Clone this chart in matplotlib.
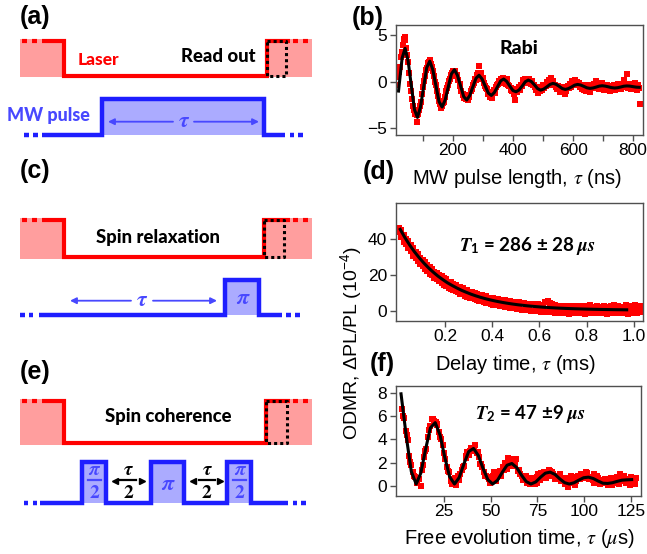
"""
Pulse sequences (a, c, e) and Rabi / T1 / T2 ODMR traces (b, d, f).
"""

import matplotlib

matplotlib.use("Agg")
import matplotlib.pyplot as plt
import numpy as np
from matplotlib.patches import Rectangle

plt.rcParams["font.family"] = ["Liberation Sans", "DejaVu Sans"]
plt.rcParams["mathtext.fontset"] = "custom"
plt.rcParams["mathtext.rm"] = "Lato:bold"
plt.rcParams["mathtext.it"] = "STIXGeneral:italic:bold"
plt.rcParams["mathtext.bf"] = "STIXGeneral:bold"
plt.rcParams["mathtext.cal"] = "STIXGeneral:italic"
plt.rcParams["mathtext.sf"] = "Liberation Sans"

RED = "#FF0000"
PINK = "#FF9E9E"
BLUE = "#1E1EFF"
LAVENDER = "#ABABFF"
TEXT_BLUE = "#4848FF"
FRAME = "#505050"

# ---------------------------------------------------------------- data
# (b) Rabi: pulse length (ns), signal
rabi_points = [
    (13, -0.3), (17, 0.5), (21, 1.0), (24, 1.6), (27, 2.6), (30, 3.2), (33, 3.9), (36, 4.6),
    (39, 4.8), (42, 4.5), (45, 3.6), (48, 2.9), (51, 2.1), (55, 0.9), (58, -0.2), (61, -1.0),
    (64, -1.8), (67, -2.6), (70, -3.0), (73, -3.4), (76, -3.1), (79, -3.6), (82, -4.3), (85, -3.5),
    (88, -3.0), (91, -2.6), (95, -2.2), (98, -1.3), (101, -0.6), (104, 0.1), (107, 0.6), (110, 1.3),
    (114, 1.5), (117, 2.0), (120, 2.1), (124, 2.3), (127, 1.9), (130, 1.6), (134, 1.1), (137, 0.6),
    (141, 0.0), (144, -0.4), (147, -1.0), (151, -1.5), (154, -2.1), (158, -2.4), (161, -2.8), (164, -2.6),
    (168, -2.3), (171, -2.2), (175, -1.6), (178, -1.0), (181, -0.7), (185, -0.4), (188, 0.1), (191, 0.3),
    (195, 0.7), (198, 0.9), (202, 1.2), (205, 1.0), (208, 1.1), (212, 0.6), (215, 0.7), (218, 0.2),
    (222, -0.2), (225, -0.5), (228, -1.0), (232, -1.3), (235, -1.4), (238, -1.7), (242, -1.9), (245, -1.6),
    (249, -2.0), (252, -1.4), (255, -1.6), (259, -1.0), (262, -0.8), (266, -0.4), (269, -0.1), (272, 0.3),
    (276, 0.2), (279, 0.7), (283, 0.9), (286, 1.7), (289, 0.6), (292, 0.9), (296, 0.3), (299, 0.4),
    (302, -0.1), (306, -0.5), (309, -0.7), (313, -0.8), (316, -1.3), (320, -1.1), (323, -1.6), (327, -1.4),
    (330, -1.7), (334, -1.1), (337, -0.9), (340, -1.2), (344, -0.6), (347, -0.4), (351, -0.2), (354, 0.1),
    (357, -0.1), (361, 0.3), (364, 0.0), (368, 0.4), (371, 0.2), (375, 0.1), (378, -0.2), (381, 0.3),
    (385, -0.3), (388, -0.5), (392, -0.9), (395, -0.7), (398, -1.0), (402, -0.8), (405, -1.3), (408, -2.0),
    (412, -0.9), (415, -1.1), (419, -0.6), (422, -0.9), (425, -0.3), (429, -0.5), (432, 0.2), (436, -0.1),
    (439, 0.3), (442, 0.0), (446, 0.2), (449, -0.1), (453, 0.3), (456, 0.0), (459, -0.2), (463, 0.1),
    (466, -0.4), (470, -0.3), (473, -0.6), (476, -0.9), (480, -0.7), (483, -1.2), (487, -0.8), (490, -1.0),
    (493, -0.6), (497, -0.9), (500, -0.4), (503, -0.7), (507, -0.3), (510, -0.5), (514, 0.0), (517, -0.3),
    (520, 0.2), (524, -0.2), (527, 0.4), (531, -0.1), (534, 0.1), (538, -0.4), (541, -0.3), (544, -0.6),
    (548, -0.8), (551, -0.5), (555, -0.9), (558, -1.1), (561, -0.7), (565, -1.0), (568, -0.6), (572, -1.3),
    (575, -0.8), (578, -1.0), (582, -0.5), (585, -0.7), (589, -0.2), (592, -0.6), (595, 0.1), (599, -0.4),
    (602, -0.1), (606, 0.2), (609, -0.3), (612, 0.0), (616, -0.4), (619, -0.1), (623, -0.6), (626, -0.3),
    (629, -0.8), (633, -0.5), (636, -0.9), (640, -0.6), (643, -1.0), (646, -0.4), (650, -0.8), (653, -0.5),
    (656, -1.1), (660, -0.6), (663, -0.3), (667, -0.7), (670, -0.2), (673, -0.5), (677, 0.1), (680, -0.4),
    (684, -0.3), (687, -0.8), (690, -0.2), (694, -0.6), (697, -0.1), (701, -0.5), (704, -0.9), (707, -0.4),
    (711, -0.7), (714, -0.3), (718, -0.8), (721, -0.6), (724, -1.0), (728, -0.5), (731, -0.7), (735, -0.3),
    (738, -0.9), (741, -0.4), (745, -0.6), (748, -0.2), (752, -0.7), (755, -0.4), (758, -0.8), (762, -0.3),
    (765, -0.6), (769, 0.2), (772, -0.5), (775, -0.3), (779, 0.8), (782, -0.7), (786, -0.4), (789, -0.2),
    (792, -0.8), (796, -0.5), (799, -0.3), (803, -0.6), (806, -0.1), (810, -0.5), (813, -0.9), (816, -0.4),
    (820, -0.7), (823, -2.4),
]
rabi_fit = [
    (19, -1.0), (31, 2.53), (41, 3.57), (51, 2.23), (62, -0.5), (72, -2.97), (82, -3.82), (92, -2.73),
    (103, -0.5), (113, 1.51), (123, 2.20), (133, 1.31), (144, -0.5), (154, -2.14), (164, -2.70),
    (174, -1.98), (185, -0.5), (195, 0.83), (205, 1.29), (215, 0.70), (226, -0.5), (236, -1.59),
    (246, -1.96), (256, -1.48), (267, -0.5), (277, 0.38), (287, 0.69), (297, 0.30), (308, -0.5),
    (318, -1.22), (328, -1.47), (338, -1.15), (349, -0.5), (359, 0.09), (369, 0.29), (379, 0.03),
    (390, -0.5), (400, -0.95), (410, -1.07), (420, -0.89), (431, -0.45), (441, 0.0), (451, 0.18),
    (461, 0.02), (472, -0.36), (482, -0.74), (492, -0.9), (502, -0.79), (513, -0.54), (523, -0.29),
    (533, -0.18), (543, -0.27), (554, -0.5), (564, -0.73), (574, -0.82), (584, -0.74), (595, -0.56),
    (605, -0.37), (615, -0.29), (625, -0.35), (636, -0.5), (646, -0.65), (656, -0.71), (666, -0.67),
    (677, -0.57), (687, -0.47), (697, -0.43), (707, -0.47), (718, -0.55), (728, -0.63), (738, -0.67),
    (748, -0.64), (759, -0.56), (769, -0.48), (779, -0.45), (789, -0.47), (800, -0.53), (810, -0.58),
    (820, -0.6),
]

# (d) spin relaxation: delay (ms), two scatter rows per delay
t1_delay = np.round(np.linspace(0.005, 1.025, 103), 3)
t1_upper = [
    45.8, 44.6, 42.0, 40.1, 38.5, 36.4, 34.8, 32.5, 31.4, 29.3,
    28.4, 26.9, 25.6, 24.1, 23.3, 21.7, 21.1, 19.8, 19.2, 18.0,
    17.4, 16.2, 15.8, 14.6, 14.3, 13.4, 12.9, 12.6, 11.5, 11.2,
    10.6, 10.3, 9.6, 9.5, 8.8, 8.6, 8.0, 7.9, 7.3, 7.2,
    6.8, 6.7, 6.2, 6.0, 5.6, 5.7, 5.2, 5.3, 4.8, 4.9,
    4.4, 4.6, 4.1, 4.3, 3.8, 3.9, 3.5, 3.7, 3.3, 3.6,
    3.1, 3.4, 4.6, 5.2, 4.4, 3.6, 2.9, 2.6, 2.4, 2.8,
    2.2, 2.6, 2.1, 2.7, 2.0, 2.5, 1.9, 2.6, 2.0, 2.4,
    1.8, 3.1, 2.2, 1.7, 2.5, 2.0, 1.6, 2.8, 2.1, 1.5,
    2.3, 3.4, 1.9, 2.6, 1.7, 2.2, 3.0, 1.8, 2.4, 1.6,
    3.2, 2.0, 2.7,
]
t1_lower = [
    43.5, 41.2, 38.4, 37.0, 34.6, 32.9, 30.6, 29.5, 27.6, 26.0,
    24.7, 23.1, 22.0, 20.5, 19.6, 18.2, 17.4, 16.3, 15.6, 14.5,
    13.9, 12.8, 12.3, 11.2, 10.8, 10.1, 9.4, 9.0, 8.2, 7.8,
    7.1, 6.9, 6.3, 6.0, 5.4, 5.2, 4.7, 4.5, 4.0, 3.8,
    3.4, 3.2, 2.9, 2.6, 2.3, 2.1, 1.8, 1.7, 1.4, 1.2,
    1.1, 0.8, 0.6, 0.4, 0.2, 0.1, -0.2, 0.0, -0.4, -0.1,
    -0.6, -0.3, -0.8, -0.5, -1.0, -0.7, -1.4, -0.9, -1.5, -0.6,
    -1.3, -0.8, -1.6, -0.9, -1.2, -0.7, -1.4, -0.8, -1.1, -1.6,
    -0.7, -1.2, -0.9, -1.5, -0.6, -1.3, -0.8, -1.1, -1.7, -0.7,
    -1.2, -0.9, -1.4, -0.8, -1.5, -0.6, -1.1, -1.8, -0.7, -1.3,
    -0.9, -1.5, -0.6,
]
t1_fit = [
    (0.01, 45.2), (0.03, 40.6), (0.05, 36.5), (0.07, 32.8), (0.09, 29.5), (0.11, 26.5), (0.13, 23.8),
    (0.15, 21.4), (0.17, 19.2), (0.19, 17.3), (0.21, 15.5), (0.23, 14.0), (0.25, 12.6), (0.27, 11.3),
    (0.29, 10.2), (0.31, 9.15), (0.33, 8.24), (0.35, 7.42), (0.37, 6.68), (0.39, 6.02), (0.41, 5.43),
    (0.43, 4.90), (0.45, 4.42), (0.47, 3.99), (0.49, 3.60), (0.51, 3.25), (0.53, 2.94), (0.55, 2.66),
    (0.57, 2.41), (0.59, 2.19), (0.61, 1.98), (0.63, 1.80), (0.65, 1.64), (0.67, 1.49), (0.69, 1.36),
    (0.71, 1.24), (0.73, 1.14), (0.75, 1.04), (0.77, 0.96), (0.79, 0.88), (0.81, 0.81), (0.83, 0.75),
    (0.85, 0.69), (0.87, 0.64), (0.89, 0.60), (0.91, 0.56), (0.93, 0.52), (0.95, 0.49), (0.97, 0.46),
]

# (f) spin coherence: free evolution time (us)
t2_time_a = np.arange(2.5, 128, 1.0)
t2_signal_a = [
    6.6, 5.8, 4.7, 3.9, 2.6, 1.8, 1.2, 0.8, 0.3, 0.6,
    0.0, 1.8, 2.5, 3.2, 4.2, 5.1, 5.7, 5.6, 5.5, 5.2,
    4.6, 4.0, 3.5, 2.3, 1.6, 1.2, 0.6, 0.2, 0.5, 0.1,
    0.9, 1.0, 1.4, 1.7, 2.4, 2.9, 2.7, 3.3, 3.0, 3.5,
    2.8, 2.5, 1.9, 1.6, 1.2, 0.9, 0.8, 0.3, 0.5, 1.2,
    0.6, 0.8, 1.1, 0.9, 1.6, 2.0, 1.5, 2.4, 2.1, 1.7,
    1.9, 2.3, 1.3, 1.0, 0.9, 0.6, 0.8, 0.3, 0.7, 0.4,
    0.6, 0.2, 0.8, 1.0, 0.5, 0.9, 1.2, 0.7, 1.1, 1.3,
    0.9, 1.0, 0.6, 0.8, 0.9, 0.4, 0.6, 0.2, 0.7, -0.1,
    0.5, 0.3, 0.8, 0.4, 0.9, 0.6, 1.0, 0.7, 0.9, 1.1,
    0.6, 0.8, 0.5, 1.0, 0.4, 0.7, 0.2, 0.5, 0.3, 0.6,
    0.1, 0.4, 0.7, 0.3, 0.5, 0.8, 0.2, 0.6, 0.4, 0.9,
    0.3, 0.6, 0.1, 0.5, 0.3, 0.7,
]
t2_time_b = np.arange(3, 128, 2)
t2_signal_b = [
    6.0, 4.4, 2.1, 0.9, 0.7, 1.4, 3.0, 4.8, 5.7, 5.3,
    4.2, 2.8, 1.3, 0.4, 0.7, 0.5, 1.6, 2.6, 3.0, 3.2,
    2.9, 1.9, 0.9, 0.6, 0.9, 0.4, 1.3, 1.4, 1.8, 2.3,
    1.8, 1.4, 0.5, 0.9, 0.2, 0.7, 0.3, 1.1, 0.8, 1.4,
    1.2, 0.7, 1.0, 0.5, 0.3, 0.9, 0.1, 0.7, 0.9, 1.2,
    0.8, 0.3, 0.9, 0.4, 0.6, 0.3, 0.1, 0.6, 1.0, 0.5,
    0.4, 0.8, 0.2,
]
t2_fit = [
    (2.0, 7.9), (4.9, 4.14), (7.5, 1.25), (10.1, 0.17), (12.6, 1.11), (15.2, 3.19), (17.7, 4.98),
    (20.3, 5.43), (22.9, 4.36), (25.4, 2.47), (28.0, 0.80), (30.6, 0.17), (33.1, 0.72), (35.7, 1.92),
    (38.2, 2.95), (40.8, 3.22), (43.4, 2.60), (45.9, 1.50), (48.5, 0.53), (51.1, 0.17), (53.6, 0.49),
    (56.2, 1.18), (58.7, 1.78), (61.3, 1.93), (63.9, 1.58), (66.4, 0.94), (69.0, 0.38), (71.5, 0.17),
    (74.1, 0.35), (76.7, 0.76), (79.2, 1.10), (81.8, 1.19), (84.4, 0.99), (86.9, 0.62), (89.5, 0.29),
    (92.0, 0.17), (94.6, 0.28), (97.2, 0.51), (99.7, 0.71), (102.3, 0.76), (104.9, 0.64), (107.4, 0.43),
    (110.0, 0.24), (112.6, 0.22), (115.1, 0.28), (117.7, 0.40), (120.2, 0.50), (122.8, 0.53),
    (125.4, 0.55),
]

# ------------------------------------------- pulse schematic (pixel units)
laser_top = [41.3, 220.0, 401.0]
laser_bottom = [75.5, 256.7, 443.4]
laser_rise_x = [266.5, 263.7, 266.3]
readout_right_x = [285.7, 284.3, 286.7]
mw_base_y = [135.0, 315.0, 503.3]
mw_top_y = [98.7, 280.0, 461.7]
mw_pulses = [
    [(102.0, 263.7)],
    [(225.0, 259.0)],
    [(82.0, 106.0), (151.3, 184.0), (227.0, 251.3)],
]
mw_start_x = [41.7, 39.0, 40.0]
mw_end_x = [285.0, 281.7, 288.3]
mw_left_dots = [(26.2, 35.3), (22.5, 30.8), (25.8, 35.0)]
mw_right_dots = [(292.0, 300.3), (288.7, 297.5), (295.0, 303.2)]
LASER_FALL_X = 63.7
LASER_START_X = 41.7
LASER_END_X = 290.0
PINK_LEFT = 19.5
PINK_RIGHT = 311.7
laser_left_dots = (24.0, 34.0)
laser_right_dots = (295.8, 305.8)


def draw_sequence(ax, row):
    top, bot = laser_top[row], laser_bottom[row]
    rise, ro = laser_rise_x[row], readout_right_x[row]

    # laser on (pink) before and after the dark interval
    ax.add_patch(Rectangle((PINK_LEFT, top - 2), LASER_FALL_X - PINK_LEFT, bot - top + 4,
                           facecolor=PINK, lw=0))
    ax.add_patch(Rectangle((rise, top - 2), PINK_RIGHT - rise, bot - top + 4,
                           facecolor=PINK, lw=0))
    ax.plot([LASER_START_X, LASER_FALL_X, LASER_FALL_X, rise, rise, LASER_END_X],
            [top, top, bot, bot, top, top], color=RED, lw=3,
            solid_joinstyle="miter", solid_capstyle="butt")
    for x in laser_left_dots + laser_right_dots:
        ax.plot([x - 2.5, x + 2.5], [top, top], color=RED, lw=3, solid_capstyle="butt")
    # read-out window
    ax.plot([rise, ro, ro, rise, rise], [top, top, bot, bot, top],
            color="black", lw=2.2, linestyle=(0, (1, 1)))

    # microwave line
    base, high = mw_base_y[row], mw_top_y[row]
    xs, ys = [mw_start_x[row]], [base]
    for x0, x1 in mw_pulses[row]:
        ax.add_patch(Rectangle((x0, high), x1 - x0, base - high, facecolor=LAVENDER, lw=0))
        xs += [x0, x0, x1, x1]
        ys += [base, high, high, base]
    xs.append(mw_end_x[row])
    ys.append(base)
    ax.plot(xs, ys, color=BLUE, lw=3.2, solid_joinstyle="miter", solid_capstyle="butt")
    for x in mw_left_dots[row] + mw_right_dots[row]:
        ax.plot([x - 2.3, x + 2.3], [base, base], color=BLUE, lw=3.2, solid_capstyle="butt")


def greek(ax, x, y, s, color, size=16):
    ax.text(x, y, s, color=color, fontsize=size, family="STIXGeneral",
            style="italic", weight="bold", ha="center", va="center")


def arrow(ax, tail, head, y, color, lw=1.3):
    ax.annotate("", xy=(head, y), xytext=(tail, y),
                arrowprops=dict(arrowstyle="-|>", color=color, lw=lw,
                                mutation_scale=9, shrinkA=0, shrinkB=0))


def half_fraction(ax, x, y_top, y_bar, y_bot, top, color, bar_half=6.5):
    greek(ax, x, y_top, top, color, size=14)
    ax.plot([x - bar_half, x + bar_half], [y_bar, y_bar], color=color, lw=1.6)
    ax.text(x, y_bot, "2", color=color, fontsize=14, family="STIXGeneral",
            weight="bold", ha="center", va="center")


def style_axes(ax):
    for side in ax.spines.values():
        side.set_color(FRAME)
        side.set_linewidth(1.0)
    ax.tick_params(direction="out", length=4, width=1, color=FRAME,
                   labelsize=12.5, pad=2, top=False, right=False)
    ax.tick_params(which="minor", direction="out", length=4, width=1, color=FRAME)


fig = plt.figure(figsize=(6.47, 5.54), dpi=100)

# full-figure canvas in pixel units for schematics and free text
sk = fig.add_axes([0, 0, 1, 1], zorder=0)
sk.set_xlim(0, 647)
sk.set_ylim(554, 0)
sk.axis("off")

for row in range(3):
    draw_sequence(sk, row)

lab = dict(family="Lato", weight=900, ha="center", va="center")
panel = dict(family="Liberation Sans", weight="bold", fontsize=18, ha="center", va="center")
sk.text(35, 17, "(a)", **panel)
sk.text(35, 171, "(c)", **panel)
sk.text(35, 372, "(e)", **panel)
sk.text(367.5, 18, "(b)", **panel)
sk.text(379, 172.5, "(d)", **panel)
sk.text(382, 364, "(f)", **panel)

# (a)
sk.text(98, 60, "Laser", color=RED, fontsize=12.5, **lab)
sk.text(218.3, 57, "Read out", color="black", fontsize=13.3, **lab)
sk.text(48.5, 116, "MW pulse", color=TEXT_BLUE, fontsize=13, **lab)
greek(sk, 184, 121, "τ", TEXT_BLUE)
arrow(sk, 173, 108, 121.7, TEXT_BLUE)
arrow(sk, 194, 259, 121.7, TEXT_BLUE)

# (c)
sk.text(157.5, 238, "Spin relaxation", color="black", fontsize=13.3, **lab)
greek(sk, 141.7, 300, "τ", TEXT_BLUE)
arrow(sk, 131, 70, 300.7, TEXT_BLUE)
arrow(sk, 153, 217, 300.7, TEXT_BLUE)
greek(sk, 242, 298, "π", TEXT_BLUE)

# (e)
sk.text(168.3, 416.7, "Spin coherence", color="black", fontsize=13.3, **lab)
half_fraction(sk, 94, 470, 480, 493, "π", TEXT_BLUE)
half_fraction(sk, 239.2, 470, 480, 493, "π", TEXT_BLUE)
greek(sk, 167.6, 484, "π", TEXT_BLUE)
for xc in (128.3, 206.7):
    half_fraction(sk, xc, 470, 480, 493, "τ", "black", bar_half=8)
    sk.plot([xc - 13.5], [481], marker="<", color="black", ms=4.5)
    sk.plot([xc + 13.5], [481], marker=">", color="black", ms=4.5)

# axis labels
sk.text(517, 179, "MW pulse length, $\\mathcal{\\tau}$ (ns)", fontsize=14.5, ha="center", va="center")
sk.text(515, 364, "Delay time, $\\mathcal{\\tau}$ (ms)", fontsize=14.5, ha="center", va="center")
sk.text(519, 539, "Free evolution time, $\\mathcal{\\tau}$ ($\\mathcal{\\mu}$s)", fontsize=14.5,
        ha="center", va="center")
sk.text(352, 343, "ODMR, ΔPL/PL (10$^{\\mathsf{-4}}$)", fontsize=14, rotation=90,
        ha="center", va="center")

W, H = 647, 554


def px_axes(left, right, top, bottom):
    return fig.add_axes([left / W, 1 - bottom / H, (right - left) / W, (bottom - top) / H], zorder=1)


MS = 4.2

# (b) Rabi
ax_b = px_axes(395.5, 642.5, 25, 135)
rt, ry = zip(*rabi_points)
ft, fy = zip(*rabi_fit)
ax_b.plot(rt, ry, "s", color=RED, ms=MS, mew=0)
ax_b.plot(ft, fy, color="black", lw=2.2)
ax_b.set_xlim(9, 831)
ax_b.set_ylim(-5.7, 6.07)
ax_b.set_xticks([200, 400, 600, 800])
ax_b.set_xticks([100, 300, 500, 700], minor=True)
ax_b.set_yticks([-5, 0, 5])
ax_b.set_yticklabels(["\u22125", "0", "5"])
ax_b.text(418.7, 3.58, "Rabi", family="Lato", weight=900, fontsize=14, ha="center", va="center")
style_axes(ax_b)

# (d) T1
ax_d = px_axes(395.5, 642.5, 203.3, 320.7)
ax_d.plot(t1_delay, t1_upper, "s", color=RED, ms=MS, mew=0)
ax_d.plot(t1_delay, t1_lower, "s", color=RED, ms=MS, mew=0)
dx, dy = zip(*t1_fit)
ax_d.plot(dx, dy, color="black", lw=2.2)
ax_d.set_xlim(-0.01, 1.037)
ax_d.set_ylim(-5.6, 59.7)
ax_d.set_xticks([0.2, 0.4, 0.6, 0.8, 1.0])
ax_d.set_yticks([0, 20, 40])
ax_d.text(0.55, 35.9, "$T_1$ = 286 $\\pm$ 28 $\\mu s$", family="Lato", weight="bold",
          fontsize=13.5, ha="center", va="center")
style_axes(ax_d)

# (f) T2
ax_f = px_axes(395.5, 641, 386, 495.7)
ax_f.plot(t2_time_a, t2_signal_a, "s", color=RED, ms=MS, mew=0)
ax_f.plot(t2_time_b, t2_signal_b, "s", color=RED, ms=MS, mew=0)
gx, gy = zip(*t2_fit)
ax_f.plot(gx, gy, color="black", lw=2.2)
ax_f.set_xlim(-0.96, 130.4)
ax_f.set_ylim(-0.83, 8.57)
ax_f.set_xticks([25, 50, 75, 100, 125])
ax_f.set_yticks([0, 2, 4, 6, 8])
ax_f.text(71.0, 6.14, "$T_2$ = 47 $\\pm$9 $\\mu s$", family="Lato", weight="bold",
          fontsize=13.5, ha="center", va="center")
style_axes(ax_f)

fig.savefig("out.png", dpi=100)
